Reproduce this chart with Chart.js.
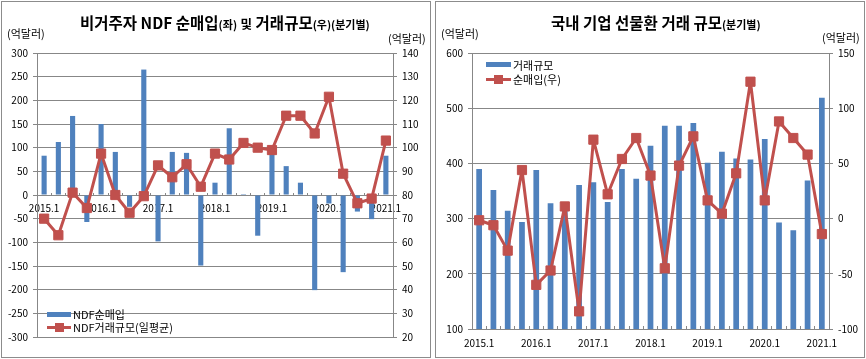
<!DOCTYPE html>
<html><head><meta charset="utf-8">
<script src="https://cdn.jsdelivr.net/npm/chart.js@4/dist/chart.umd.min.js"></script>
<style>
html,body{margin:0;padding:0;background:#fff;}
body{width:866px;height:359px;position:relative;overflow:hidden;font-family:"Noto Sans CJK KR",sans-serif;color:#000;}
.abs{position:absolute;white-space:nowrap;}
canvas{position:absolute;top:0;}
.panel{position:absolute;border:1px solid #8c8c8c;box-sizing:border-box;}
.title{font-size:15.5px;font-weight:bold;line-height:20px;}
.title .s{font-size:11px;}
.unit{font-size:11px;line-height:14px;}
.leg{font-size:11px;line-height:14px;}
.sw{position:absolute;}
</style></head>
<body>
<div class="panel" style="left:1px;top:1px;width:430px;height:357px"></div>
<div class="panel" style="left:435px;top:1px;width:430px;height:357px"></div>
<canvas id="c1" width="433" height="359" style="left:0"></canvas>
<canvas id="c2" width="433" height="359" style="left:433px"></canvas>

<div class="abs title" style="left:80px;top:12px">비거주자 NDF 순매입<span class="s">(좌)</span> <span style="font-size:12.5px">및</span> 거래규모<span class="s">(우)(분기별)</span></div>
<div class="abs unit" style="left:7px;top:26px">(억달러)</div>
<div class="abs unit" style="left:388px;top:31px">(억달러)</div>

<div class="abs title" style="left:551px;top:12px">국내 기업 선물환 거래 규모<span class="s">(분기별)</span></div>
<div class="abs unit" style="left:441px;top:26px">(억달러)</div>
<div class="abs unit" style="left:822px;top:30px">(억달러)</div>

<div id="leg1"></div>
<div id="leg2"></div>

<script>
// ---- data ----
const quarters = ['2015.1','2015.2','2015.3','2015.4','2016.1','2016.2','2016.3','2016.4',
  '2017.1','2017.2','2017.3','2017.4','2018.1','2018.2','2018.3','2018.4',
  '2019.1','2019.2','2019.3','2019.4','2020.1','2020.2','2020.3','2020.4','2021.1'];
const xTickLabels = ['2015.1','2016.1','2017.1','2018.1','2019.1','2020.1','2021.1'];

// left chart: non-resident NDF net purchases (left axis) and NDF daily avg volume (right axis)
const ndfNetBuyLabel = 'NDF순매입';
const ndfVolumeLabel = 'NDF거래규모(일평균)';
const ndfNetBuy = [83,112,167,-57,150,91,-25,265,-98,91,89,-149,26,141,2,-86,88,61,26,-201,-18,-163,-35,-51,83];
const ndfVolume = [70,63,81,74.5,97.5,80,72.5,79.5,92.5,87.5,93,83.5,97.5,95,102,100,99,113.5,113.5,106,121.5,89,76.5,78.5,103];

// right chart: domestic corporate forward volume (left axis) and net purchases (right axis)
const fwdVolumeLabel = '거래규모';
const fwdNetBuyLabel = '순매입(우)';
const fwdVolume = [390,352,314,294,388,328,322,361,366,330,390,372,432,468,468,473,401,421,409,407,444,293,279,369,519];
const fwdNetBuy = [-1.5,-6,-29,44,-60,-47,11,-84,71.5,22,54,73,39,-45,48,74.5,16.5,4.5,41,124,16.5,88,73,58,-14];

// ---- style ----
const BLUE = '#4F81BD';
const RED = '#C0504D';
const GRID = '#878787';
Chart.defaults.font.family = '"Noto Sans CJK KR", sans-serif';
Chart.defaults.color = '#000';

const tickCb = (v, i) => xTickLabels.includes(quarters[i]) ? quarters[i] : '';

function lineDs(label, data, axis) {
  return {type:'line', label, data, yAxisID:axis, order:0, borderColor:RED, backgroundColor:RED,
    borderWidth:3, borderJoinStyle:'round', borderCapStyle:'round',
    pointStyle:'rect', pointRadius:6.5, pointHoverRadius:6.5, pointBorderWidth:1,
    pointBackgroundColor:RED, pointBorderColor:RED, tension:0};
}
function barDs(label, data, axis, pct) {
  return {type:'bar', label, data, yAxisID:axis, order:1, backgroundColor:BLUE,
    barPercentage:pct, categoryPercentage:1};
}

new Chart(document.getElementById('c1'), {
  type:'bar',
  data:{labels:quarters, datasets:[
    lineDs(ndfVolumeLabel, ndfVolume, 'y1'),
    barDs(ndfNetBuyLabel, ndfNetBuy, 'y', 0.36)
  ]},
  options:{
    responsive:false, animation:false, devicePixelRatio:1,
    layout:{padding:{top:53,left:0,right:0,bottom:22}},
    plugins:{legend:{display:false}, tooltip:{enabled:false}},
    scales:{
      x:{position:{y:0}, offset:true,
        grid:{offset:true, drawOnChartArea:false, drawTicks:true, tickLength:-3, color:GRID},
        border:{color:GRID},
        ticks:{autoSkip:false, maxRotation:0, minRotation:0, padding:10, font:{size:10}, callback:tickCb},
        afterFit:s=>{s.height=0;}},
      y:{position:'left', min:-300, max:300,
        ticks:{stepSize:50, padding:5, font:{size:10}},
        grid:{color:GRID, tickLength:4}, border:{color:GRID},
        afterFit:s=>{s.width=37;}},
      y1:{position:'right', min:20, max:140,
        ticks:{stepSize:10, padding:5, font:{size:10}},
        grid:{drawOnChartArea:false, color:GRID, tickLength:4}, border:{color:GRID},
        afterFit:s=>{s.width=40;}}
    }
  }
});

new Chart(document.getElementById('c2'), {
  type:'bar',
  data:{labels:quarters, datasets:[
    lineDs(fwdNetBuyLabel, fwdNetBuy, 'y1'),
    barDs(fwdVolumeLabel, fwdVolume, 'y', 0.4)
  ]},
  options:{
    responsive:false, animation:false, devicePixelRatio:1,
    layout:{padding:{top:53,left:0,right:0,bottom:0}},
    plugins:{legend:{display:false}, tooltip:{enabled:false}},
    scales:{
      x:{position:'bottom', offset:true,
        grid:{offset:true, drawOnChartArea:false, drawTicks:true, tickLength:-3, color:GRID},
        border:{color:GRID},
        ticks:{autoSkip:false, maxRotation:0, minRotation:0, padding:11, font:{size:10}, callback:tickCb},
        afterFit:s=>{s.height=30;}},
      y:{position:'left', min:100, max:600,
        ticks:{stepSize:100, padding:5, font:{size:10}},
        grid:{color:GRID, tickLength:4}, border:{color:GRID},
        afterFit:s=>{s.width=39;}},
      y1:{position:'right', min:-100, max:150,
        ticks:{stepSize:50, padding:5, font:{size:10}},
        grid:{drawOnChartArea:false, color:GRID, tickLength:4}, border:{color:GRID},
        afterFit:s=>{s.width=37;}}
    }
  }
});

// ---- HTML legends ----
function legend(el, x, yBar, yLine, barLabel, lineLabel, w) {
  el.innerHTML =
    `<div class="sw" style="left:${x}px;top:${yBar-2.5}px;width:${w}px;height:5px;background:${BLUE}"></div>`+
    `<div class="abs leg" style="left:${x+w+2}px;top:${yBar-7}px">${barLabel}</div>`+
    `<div class="sw" style="left:${x}px;top:${yLine-1.5}px;width:${w}px;height:3px;background:${RED}"></div>`+
    `<div class="sw" style="left:${x+w/2-4.5}px;top:${yLine-4.5}px;width:9px;height:9px;background:${RED}"></div>`+
    `<div class="abs leg" style="left:${x+w+2}px;top:${yLine-7}px">${lineLabel}</div>`;
}
legend(document.getElementById('leg1'), 47, 314, 327, ndfNetBuyLabel, ndfVolumeLabel, 24);
legend(document.getElementById('leg2'), 486, 64.5, 79, fwdVolumeLabel, fwdNetBuyLabel, 25);
</script>
</body></html>
